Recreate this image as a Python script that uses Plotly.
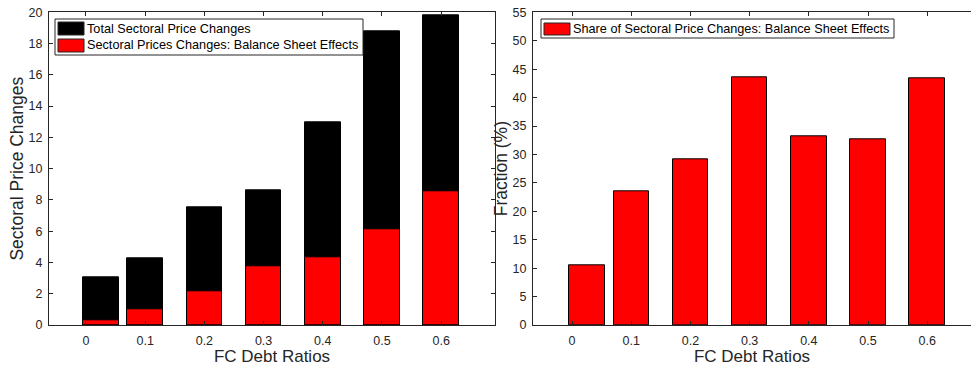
import plotly.graph_objects as go

# FC debt ratio of each bar group (first group sits slightly right of 0)
debt_ratios = [0.025, 0.1, 0.2, 0.3, 0.4, 0.5, 0.6]
tick_vals = [0, 0.1, 0.2, 0.3, 0.4, 0.5, 0.6]
tick_text = ["0", "0.1", "0.2", "0.3", "0.4", "0.5", "0.6"]

total_changes = [3.03, 4.26, 7.55, 8.61, 12.96, 18.76, 19.83]
balance_sheet_changes = [0.32, 0.98, 2.17, 3.73, 4.31, 6.12, 8.55]
share_balance_sheet = [10.46, 23.56, 29.2, 43.65, 33.2, 32.7, 43.36]

name_total = "Total Sectoral Price Changes"
name_bs = "Sectoral Prices Changes: Balance Sheet Effects"
name_share = "Share of Sectoral Price Changes: Balance Sheet Effects"

W, H = 971, 366
INK = "#262626"
FONT = "Liberation Sans, Arial, Helvetica, sans-serif"
BAR_W = 0.06

fig = go.Figure()
fig.add_trace(go.Bar(x=debt_ratios, y=total_changes, name=name_total, width=BAR_W,
                     marker=dict(color="black", line=dict(color="black", width=1)),
                     xaxis="x", yaxis="y", showlegend=False))
fig.add_trace(go.Bar(x=debt_ratios, y=balance_sheet_changes, name=name_bs, width=BAR_W,
                     marker=dict(color="#ff0000", line=dict(color="black", width=1)),
                     xaxis="x", yaxis="y", showlegend=False))
fig.add_trace(go.Bar(x=debt_ratios, y=share_balance_sheet, name=name_share, width=BAR_W,
                     marker=dict(color="#ff0000", line=dict(color="black", width=1)),
                     xaxis="x2", yaxis="y2", showlegend=False))


def px_x(p):
    return p / W


def px_y(p):
    return 1 - p / H


y_dom = [px_y(325), px_y(12.3)]

common_x = dict(tickvals=tick_vals, ticktext=tick_text, ticks="inside", ticklen=4,
                tickcolor=INK, showline=True, linecolor=INK, linewidth=1,
                showgrid=False, zeroline=False, automargin=False,
                tickfont=dict(size=12.5, color=INK),
                title=dict(text="FC Debt Ratios", font=dict(size=17, color=INK), standoff=11),
                ticklabelstandoff=4)
common_y = dict(ticks="inside", ticklen=4, tickcolor=INK, showline=True, linecolor=INK,
                linewidth=1, showgrid=False, zeroline=False, automargin=False,
                tickfont=dict(size=12.5, color=INK), ticklabelstandoff=3)

fig.update_layout(
    width=W, height=H, margin=dict(l=0, r=0, t=0, b=0, autoexpand=False),
    paper_bgcolor="white", plot_bgcolor="white",
    font=dict(family=FONT, color=INK),
    barmode="overlay", bargap=0,
    xaxis=dict(common_x, domain=[px_x(49), px_x(495)], range=[-0.0625, 0.691],
               anchor="y", mirror="ticks"),
    yaxis=dict(common_y, domain=y_dom, range=[0, 20], dtick=2, anchor="x", mirror="ticks",
               title=dict(text="Sectoral Price Changes", font=dict(size=17.5, color=INK), standoff=0)),
    xaxis2=dict(common_x, domain=[px_x(533), 1.0], range=[-0.066, 0.674],
                anchor="y2", mirror="ticks"),
    yaxis2=dict(common_y, domain=y_dom, range=[0, 55], dtick=5, anchor="x2", mirror=False,
                title=dict(text="Fraction (%)", font=dict(size=17.5, color=INK), standoff=0)),
)

shapes = []
annotations = []

# The right-hand panel runs on past the page edge: keep its far side open
shapes.append(dict(type="line", xref="paper", yref="paper", x0=1.0, x1=1.0,
                   y0=px_y(324), y1=px_y(13.5), line=dict(color="white", width=4),
                   layer="above"))


# Legend boxes drawn in pixel coordinates of the page
def legend_box(x0, y0, x1, y1, entries):
    shapes.append(dict(type="rect", xref="paper", yref="paper",
                       x0=px_x(x0), x1=px_x(x1), y0=px_y(y1), y1=px_y(y0),
                       line=dict(color=INK, width=1), fillcolor="white", layer="above"))
    for (sy0, sy1, colour, label) in entries:
        shapes.append(dict(type="rect", xref="paper", yref="paper",
                           x0=px_x(x0 + 3), x1=px_x(x0 + 29), y0=px_y(sy1), y1=px_y(sy0),
                           line=dict(color=INK, width=1), fillcolor=colour, layer="above"))
        annotations.append(dict(xref="paper", yref="paper", x=px_x(x0 + 30),
                                y=px_y((sy0 + sy1) / 2), text=label, showarrow=False,
                                xanchor="left", yanchor="middle",
                                font=dict(size=12.7, color="black", family=FONT)))


legend_box(55, 19, 363, 55, [(22, 35, "black", name_total), (39, 52, "#ff0000", name_bs)])
legend_box(541, 19, 894, 38, [(23, 35, "#ff0000", name_share)])

fig.update_layout(shapes=shapes, annotations=annotations)
fig.write_html("out.html")
